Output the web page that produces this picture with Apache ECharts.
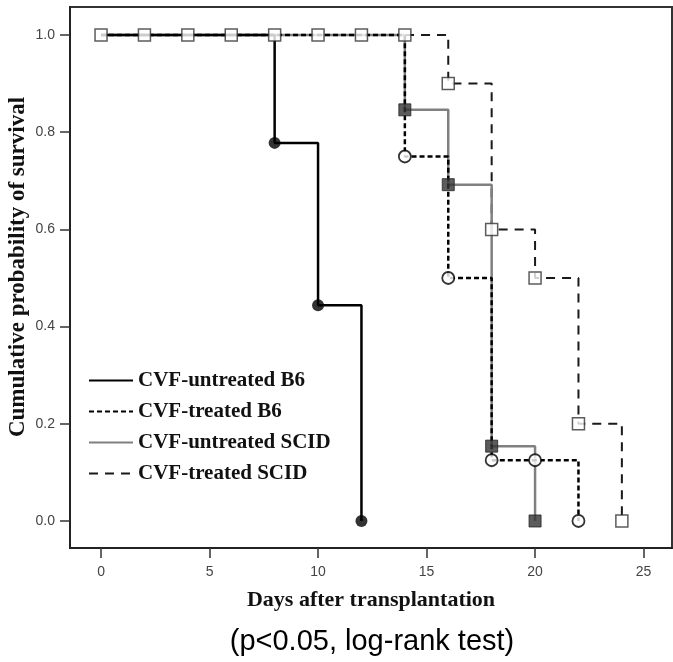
<!DOCTYPE html>
<html>
<head>
<meta charset="utf-8">
<script src="https://cdn.jsdelivr.net/npm/echarts@6/dist/echarts.min.js"></script>
<style>
  html, body { margin: 0; padding: 0; background: #fff; }
  #chart { width: 673px; height: 662px; }
</style>
</head>
<body>
<div id="chart"></div>
<script>
// Kaplan-Meier survival estimates per group (day, cumulative survival)
const b6UntreatedDays = [0, 8, 10, 12];
const b6UntreatedSurv = [1, 0.778, 0.444, 0];

const b6TreatedDays = [0, 14, 16, 18, 20, 22];
const b6TreatedSurv = [1, 0.75, 0.5, 0.125, 0.125, 0];

const scidUntreatedDays = [0, 14, 16, 18, 20];
const scidUntreatedSurv = [1, 0.846, 0.692, 0.154, 0];

const scidTreatedDays = [0, 2, 4, 6, 8, 10, 12, 14, 16, 18, 20, 22, 24];
const scidTreatedSurv = [1, 1, 1, 1, 1, 1, 1, 1, 0.9, 0.6, 0.5, 0.2, 0];

const xTicks = [0, 5, 10, 15, 20, 25];
const yTicks = [0, 0.2, 0.4, 0.6, 0.8, 1.0];

const groupNames = ['CVF-untreated B6', 'CVF-treated B6', 'CVF-untreated SCID', 'CVF-treated SCID'];

function pairs(days, surv, from) {
  const out = [];
  for (let i = from || 0; i < days.length; i++) out.push([days[i], surv[i]]);
  return out;
}

const serif = 'Liberation Serif';
const sans = 'Liberation Sans';

const chart = echarts.init(document.getElementById('chart'), null, { renderer: 'canvas' });

function stepLine(name, days, surv, lineStyle) {
  return {
    name: name,
    type: 'line',
    step: 'end',
    symbol: 'none',
    data: pairs(days, surv),
    lineStyle: lineStyle,
    itemStyle: { color: lineStyle.color },
    z: 2,
    silent: true
  };
}

function markers(name, days, surv, from, symbol, itemStyle, size) {
  return {
    name: name,
    type: 'scatter',
    symbol: symbol,
    symbolSize: size,
    data: pairs(days, surv, from),
    itemStyle: itemStyle,
    z: 5,
    silent: true
  };
}

const option = {
  animation: false,
  grid: {
    left: 70, right: 1, top: 7, bottom: 114,
    outerBoundsMode: 'none',
    containLabel: false,
    show: true,
    borderColor: '#333',
    borderWidth: 2,
    backgroundColor: '#fff'
  },
  legend: {
    data: groupNames,
    orient: 'vertical',
    left: 88,
    top: 370,
    padding: 0,
    itemWidth: 44,
    itemHeight: 14,
    itemGap: 10,
    // line samples only, no marker in the key
    itemStyle: { opacity: 0, color: 'rgba(0,0,0,0)', borderWidth: 0 },
    textStyle: {
      fontFamily: serif,
      fontWeight: 'bold',
      fontSize: 21,
      lineHeight: 20,
      color: '#111'
    }
  },
  xAxis: {
    type: 'value',
    min: -1.43,
    max: 26.31,
    name: 'Days after transplantation',
    nameLocation: 'middle',
    nameGap: 41,
    nameTextStyle: { fontFamily: serif, fontWeight: 'bold', fontSize: 22, color: '#111' },
    axisLine: { show: true, onZero: false, lineStyle: { color: '#222', width: 2 } },
    axisTick: { show: true, length: 10, customValues: xTicks, lineStyle: { color: '#333', width: 1.5 } },
    axisLabel: { customValues: xTicks, margin: 17, fontFamily: sans, fontSize: 14, color: '#444' },
    splitLine: { show: false }
  },
  yAxis: {
    type: 'value',
    min: -0.0556,
    max: 1.0576,
    axisLine: { show: true, onZero: false, lineStyle: { color: '#222', width: 2 } },
    axisTick: { show: true, length: 10, customValues: yTicks, lineStyle: { color: '#333', width: 1.5 } },
    axisLabel: {
      customValues: yTicks, margin: 15, fontFamily: sans, fontSize: 14, color: '#444',
      formatter: function (v) { return v.toFixed(1); }
    },
    splitLine: { show: false }
  },
  graphic: [{
    type: 'text',
    x: 18,
    y: 267,
    rotation: Math.PI / 2,
    style: {
      text: 'Cumulative probability of survival',
      fontFamily: serif,
      fontWeight: 'bold',
      fontSize: 23,
      fill: '#111',
      align: 'center',
      verticalAlign: 'middle'
    }
  }, {
    type: 'text',
    x: 372,
    y: 642,
    style: {
      text: '(p<0.05, log-rank test)',
      fontFamily: sans,
      fontSize: 29,
      fill: '#000',
      align: 'center',
      verticalAlign: 'middle'
    }
  }],
  series: [
    stepLine(groupNames[3], scidTreatedDays, scidTreatedSurv,
      { color: '#1a1a1a', width: 2, type: [9, 7] }),
    stepLine(groupNames[2], scidUntreatedDays, scidUntreatedSurv,
      { color: '#808080', width: 2.5, type: 'solid' }),
    stepLine(groupNames[1], b6TreatedDays, b6TreatedSurv,
      { color: '#000', width: 2.5, type: [5, 3] }),
    stepLine(groupNames[0], b6UntreatedDays, b6UntreatedSurv,
      { color: '#000', width: 2.5, type: 'solid' }),

    markers('scid-treated-marks', scidTreatedDays, scidTreatedSurv, 0, 'rect',
      { color: '#fff', borderColor: '#333', borderWidth: 1.5 }, 12),
    markers('scid-untreated-marks', scidUntreatedDays, scidUntreatedSurv, 1, 'rect',
      { color: '#333', borderColor: '#222', borderWidth: 1 }, 12),
    markers('b6-treated-marks', b6TreatedDays, b6TreatedSurv, 1, 'circle',
      { color: '#fff', borderColor: '#000', borderWidth: 1.8 }, 12),
    markers('b6-untreated-marks', b6UntreatedDays, b6UntreatedSurv, 1, 'circle',
      { color: '#000' }, 12)
  ]
};

chart.setOption(option);
</script>
</body>
</html>
